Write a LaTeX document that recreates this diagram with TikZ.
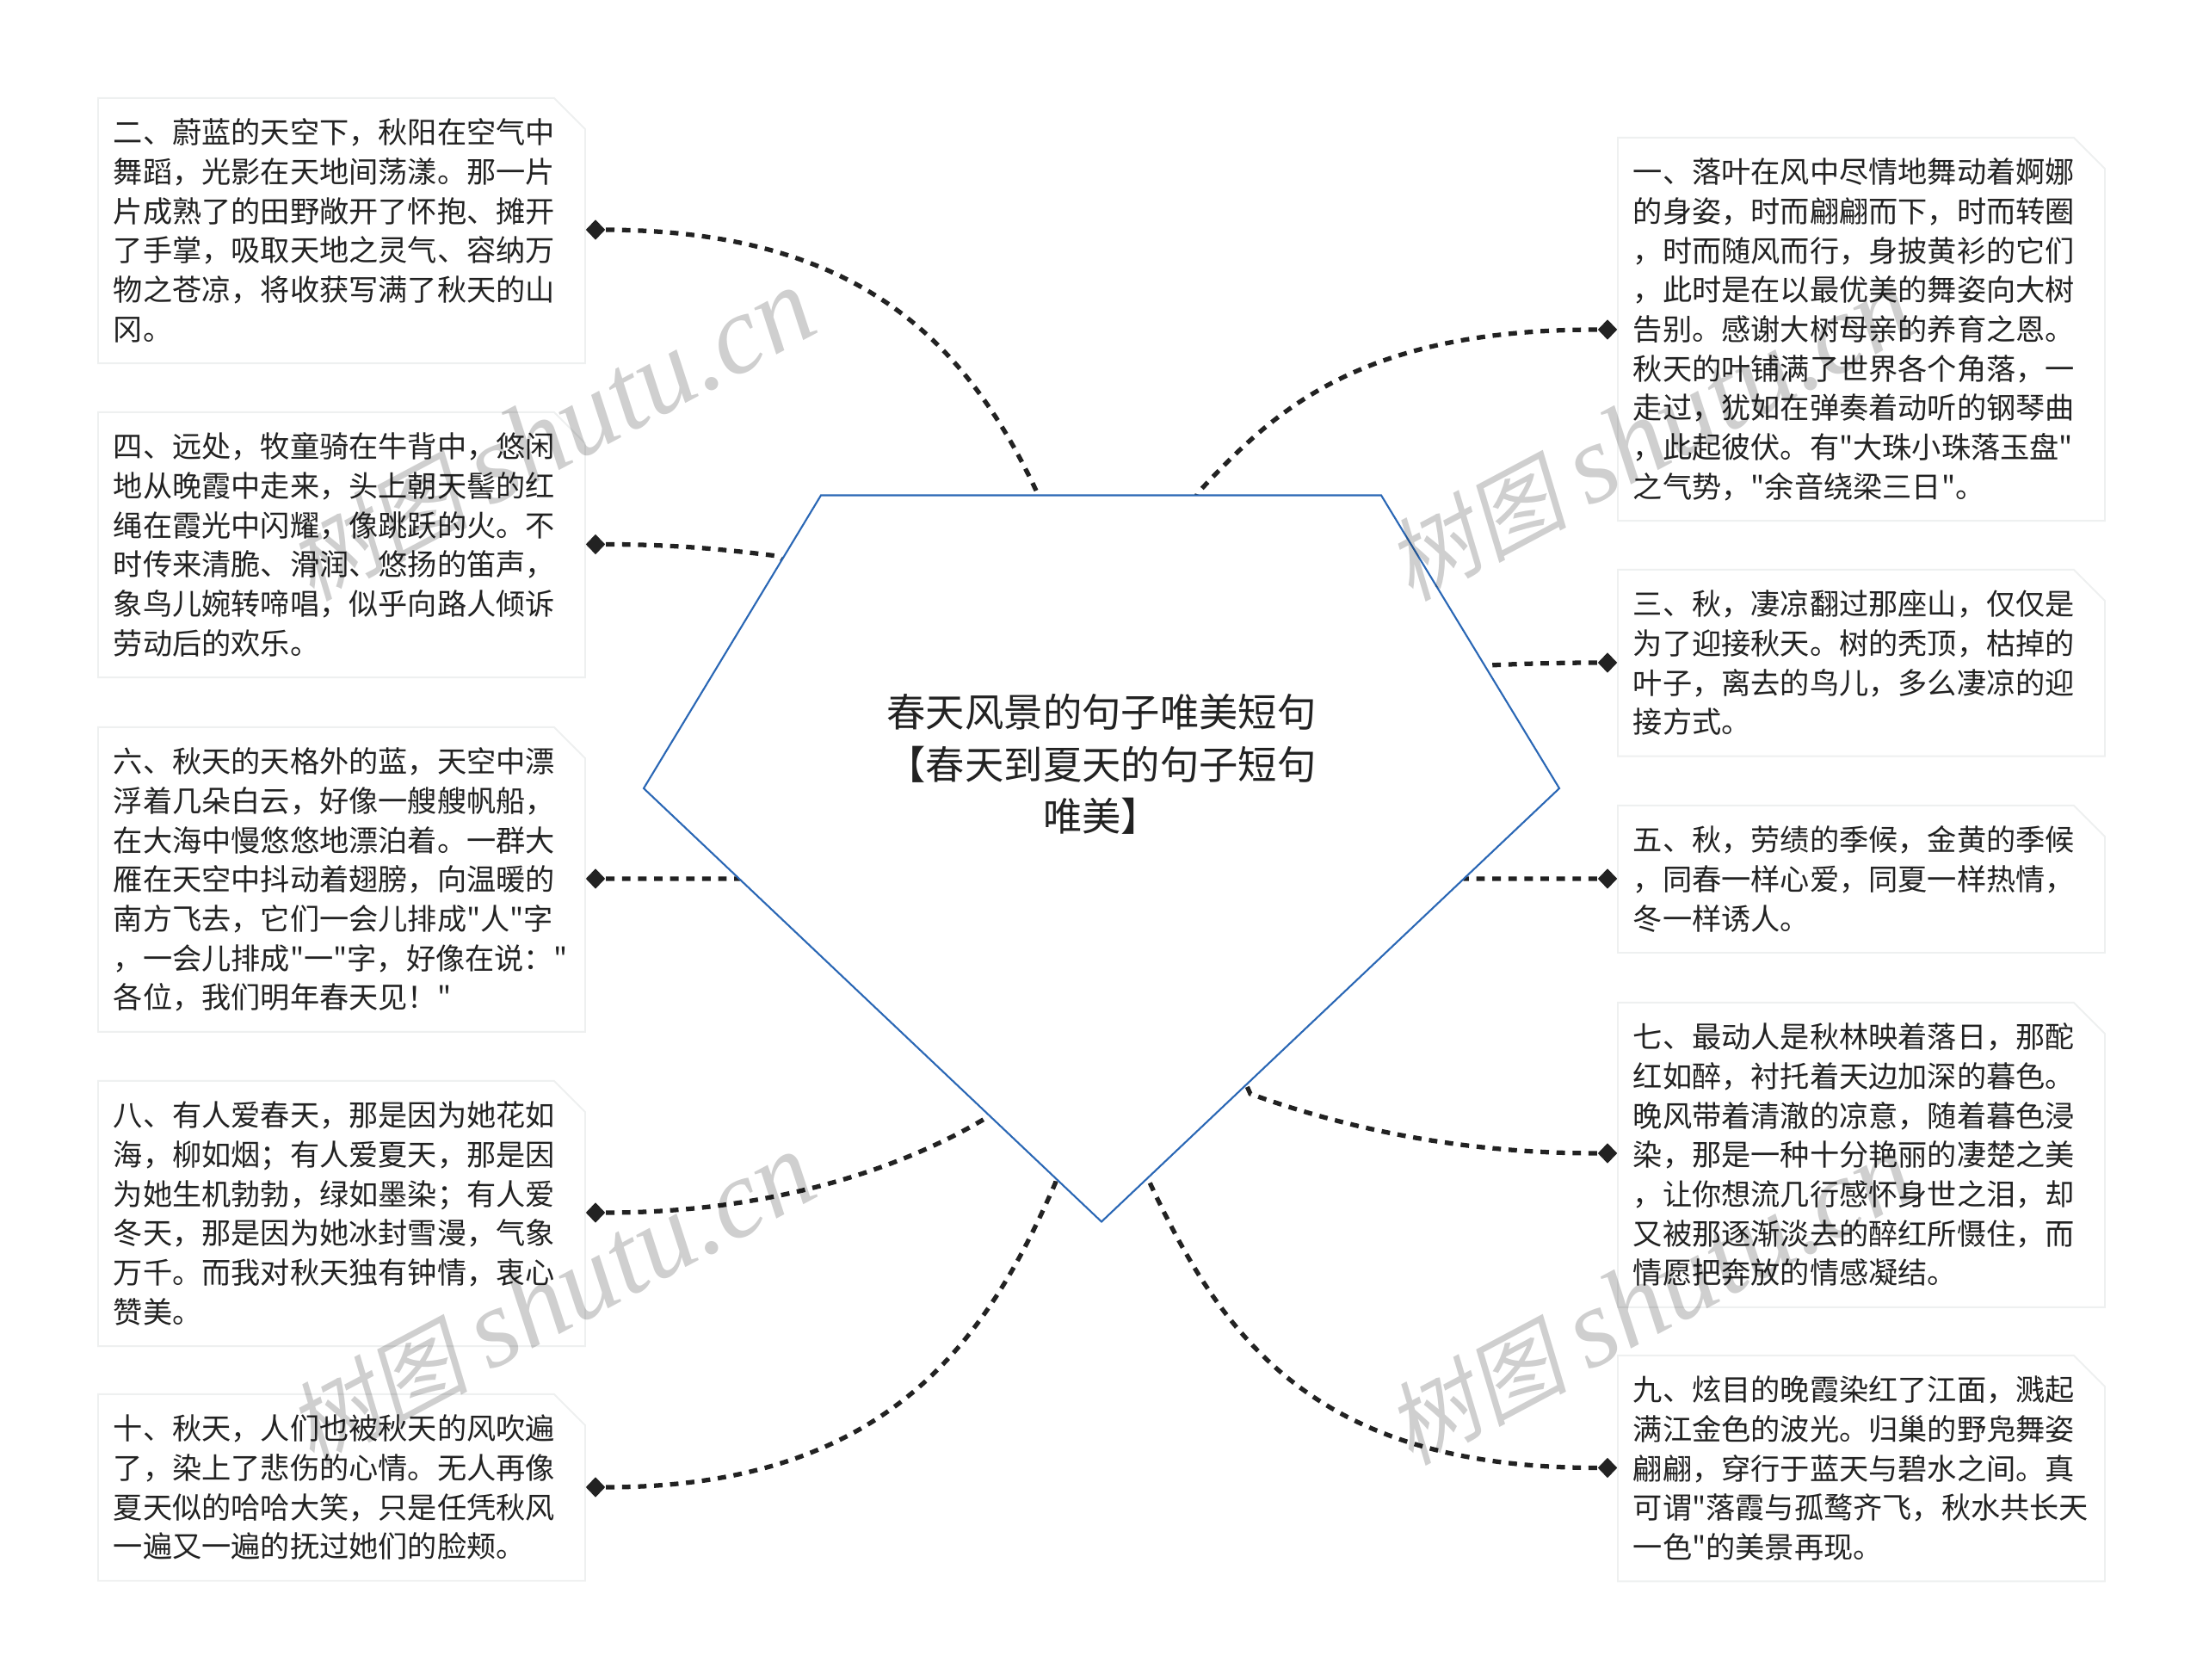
\documentclass[tikz,border=0pt]{standalone}
\usepackage{fontspec}
\usepackage{tikz}
\usetikzlibrary{shapes.geometric,shapes.misc,backgrounds}
\setmainfont[Ligatures=TeXOff]{Noto Sans CJK SC}
\newfontfamily\stampcjk[FakeSlant=0.2]{Noto Sans CJK SC}
\newfontfamily\stamplatin{Liberation Serif}
\definecolor{rootline}{HTML}{2A67B5}
\definecolor{boxline}{HTML}{EEF0F0}
\definecolor{inkgray}{HTML}{222222}

\begin{document}
\begin{tikzpicture}[
      notebox/.style={
        chamfered rectangle,
        chamfered rectangle corners=north east,
        chamfered rectangle xsep=0.18cm,
        chamfered rectangle ysep=0.18cm,
        draw=boxline,
        fill=white,
        line width=0.55pt,
        anchor=north west,
        text=inkgray,
        text width=5.30cm,
        inner xsep=0cm,
        inner ysep=-0.01cm,
        align=left,
        font=\fontsize{9.73pt}{13pt}\selectfont,
        execute at begin node=\rule{0pt}{10.2pt},
        execute at end node=\rule[-2.8pt]{0pt}{1pt}
      },
      knot/.style={
        diamond,
        fill=inkgray,
        inner sep=0pt,
        minimum width=0.23cm,
        minimum height=0.24cm
      },
      trail/.style={
        draw=inkgray,
        line width=1.5pt,
        dash pattern=on 2.8pt off 2.5pt
      },
      stamp/.style={
        rotate=28,
        text=black,
        text opacity=0.19,
        inner sep=0pt
      }
    ]
      \useasboundingbox (0,0) rectangle (25.6,19.51);

      % centre
      \draw[rootline,fill=white,line width=0.6pt] (9.54,13.755) -- (16.05,13.755) -- (18.12,10.35) -- (12.80,5.315) -- (7.48,10.35) -- cycle;
      \node (root) at (12.80,10.63) [text=inkgray,align=center,inner sep=0pt,font=\fontsize{12.9pt}{17.2pt}\selectfont]{春天风景的句子唯美短句\\【春天到夏天的句子短句\\唯美】};

      % left side
      \node (b2) at (1.13,18.38) [notebox]{二、蔚蓝的天空下，秋阳在空气中\\舞蹈，光影在天地间荡漾。那一片\\片成熟了的田野敞开了怀抱、摊开\\了手掌，吸取天地之灵气、容纳万\\物之苍凉，将收获写满了秋天的山\\冈。};
      \node (b4) at (1.13,14.73) [notebox]{四、远处，牧童骑在牛背中，悠闲\\地从晚霞中走来，头上朝天髻的红\\绳在霞光中闪耀，像跳跃的火。不\\时传来清脆、滑润、悠扬的笛声，\\象鸟儿婉转啼唱，似乎向路人倾诉\\劳动后的欢乐。};
      \node (b6) at (1.13,11.07) [notebox]{六、秋天的天格外的蓝，天空中漂\\浮着几朵白云，好像一艘艘帆船，\\在大海中慢悠悠地漂泊着。一群大\\雁在天空中抖动着翅膀，向温暖的\\南方飞去，它们一会儿排成"人"字\\，一会儿排成"一"字，好像在说："\\各位，我们明年春天见！"};
      \node (b8) at (1.13,6.96) [notebox]{八、有人爱春天，那是因为她花如\\海，柳如烟；有人爱夏天，那是因\\为她生机勃勃，绿如墨染；有人爱\\冬天，那是因为她冰封雪漫，气象\\万千。而我对秋天独有钟情，衷心\\赞美。};
      \node (b10) at (1.13,3.32) [notebox]{十、秋天，人们也被秋天的风吹遍\\了，染上了悲伤的心情。无人再像\\夏天似的哈哈大笑，只是任凭秋风\\一遍又一遍的抚过她们的脸颊。};

      % right side
      \node (b1) at (18.79,17.92) [notebox]{一、落叶在风中尽情地舞动着婀娜\\的身姿，时而翩翩而下，时而转圈\\，时而随风而行，身披黄衫的它们\\，此时是在以最优美的舞姿向大树\\告别。感谢大树母亲的养育之恩。\\秋天的叶铺满了世界各个角落，一\\走过，犹如在弹奏着动听的钢琴曲\\，此起彼伏。有"大珠小珠落玉盘"\\之气势，"余音绕梁三日"。};
      \node (b3) at (18.79,12.90) [notebox]{三、秋，凄凉翻过那座山，仅仅是\\为了迎接秋天。树的秃顶，枯掉的\\叶子，离去的鸟儿，多么凄凉的迎\\接方式。};
      \node (b5) at (18.79,10.16) [notebox]{五、秋，劳绩的季候，金黄的季候\\，同春一样心爱，同夏一样热情，\\冬一样诱人。};
      \node (b7) at (18.79,7.87) [notebox]{七、最动人是秋林映着落日，那酡\\红如醉，衬托着天边加深的暮色。\\晚风带着清澈的凉意，随着暮色浸\\染，那是一种十分艳丽的凄楚之美\\，让你想流几行感怀身世之泪，却\\又被那逐渐淡去的醉红所慑住，而\\情愿把奔放的情感凝结。};
      \node (b9) at (18.79,3.77) [notebox]{九、炫目的晚霞染红了江面，溅起\\满江金色的波光。归巢的野凫舞姿\\翩翩，穿行于蓝天与碧水之间。真\\可谓"落霞与孤鹜齐飞，秋水共长天\\一色"的美景再现。};

      \node (d2) at (6.92,16.84) [knot]{};
      \node (d4) at (6.92,13.185) [knot]{};
      \node (d6) at (6.92,9.30) [knot]{};
      \node (d8) at (6.92,5.42) [knot]{};
      \node (d10) at (6.92,2.23) [knot]{};
      \node (d1) at (18.68,15.68) [knot]{};
      \node (d3) at (18.68,11.81) [knot]{};
      \node (d5) at (18.68,9.30) [knot]{};
      \node (d7) at (18.68,6.11) [knot]{};
      \node (d9) at (18.68,2.455) [knot]{};

      \begin{scope}[on background layer]
        \draw[trail] (d2) .. controls (9.92,16.83) and (11.20,15.60) .. (12.05,13.79) -- (root);
        \draw[trail] (d4) .. controls (7.80,13.185) and (8.40,13.13) .. (9.03,13.05) -- (root);
        \draw[trail] (d6) -- (8.59,9.30) -- (root);
        \draw[trail] (d8) .. controls (8.92,5.42) and (10.446,5.91) .. (11.475,6.53) -- (root);
        \draw[trail] (d10) .. controls (10.32,2.23) and (11.47,3.94) .. (12.266,5.77) -- (root);
        \draw[trail] (d1) .. controls (15.78,15.68) and (14.80,14.73) .. (13.916,13.78) -- (root);
        \draw[trail] (d3) .. controls (18.20,11.81) and (17.70,11.80) .. (17.32,11.78) -- (root);
        \draw[trail] (d5) -- (17.02,9.30) -- (root);
        \draw[trail] (d7) .. controls (17.08,6.11) and (15.75,6.36) .. (14.53,6.80) -- (root);
        \draw[trail] (d9) .. controls (15.28,2.455) and (14.206,3.96) .. (13.36,5.77) -- (root);
      \end{scope}

      % watermarks
      \node (w1) at (6.40,14.45) [stamp]{\fontsize{30pt}{30pt}\stampcjk 树图 \fontsize{37pt}{37pt}\stamplatin\itshape shutu.cn};
      \node (w2) at (19.17,14.45) [stamp]{\fontsize{30pt}{30pt}\stampcjk 树图 \fontsize{37pt}{37pt}\stamplatin\itshape shutu.cn};
      \node (w3) at (6.40,4.41) [stamp]{\fontsize{30pt}{30pt}\stampcjk 树图 \fontsize{37pt}{37pt}\stamplatin\itshape shutu.cn};
      \node (w4) at (19.17,4.41) [stamp]{\fontsize{30pt}{30pt}\stampcjk 树图 \fontsize{37pt}{37pt}\stamplatin\itshape shutu.cn};

    \end{tikzpicture}
\end{document}
